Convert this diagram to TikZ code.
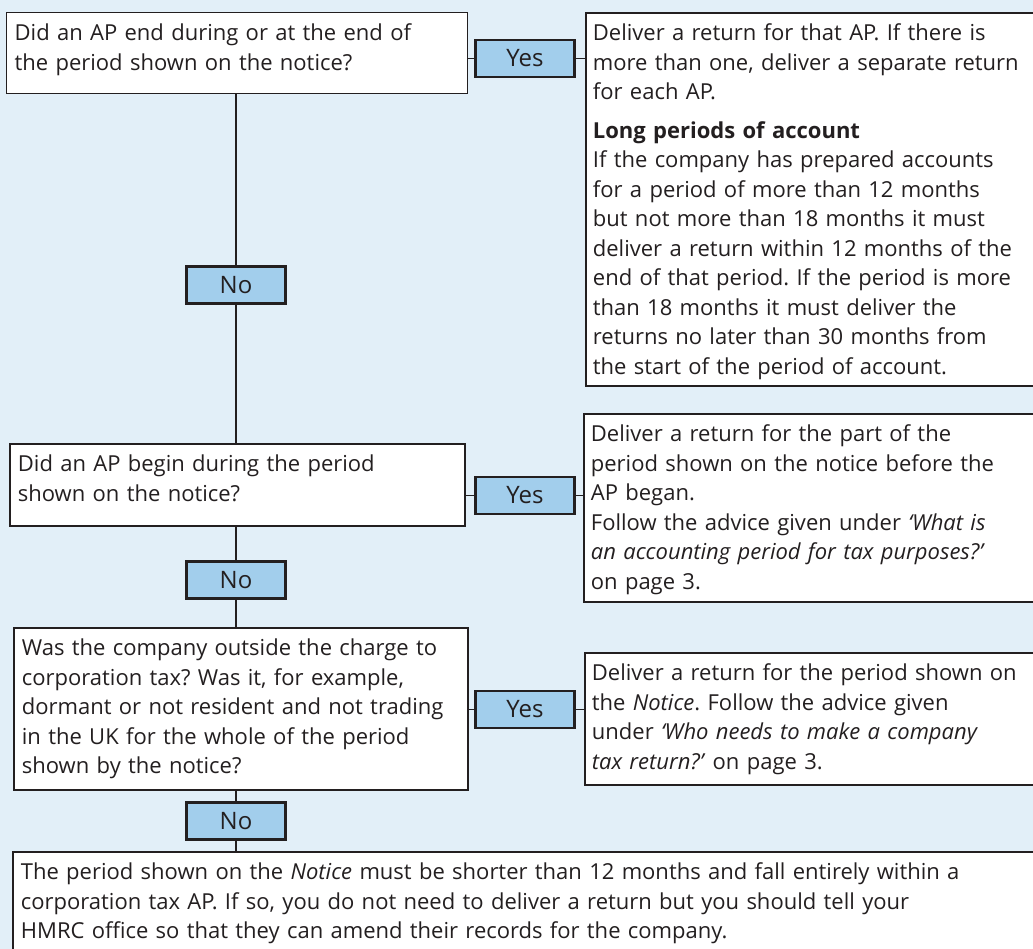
\documentclass[tikz,border=0pt]{standalone}
\usepackage{fontspec}
\setmainfont{Open Sans}
\frenchspacing
\hyphenpenalty=10000
\usetikzlibrary{positioning}

\definecolor{bgblue}{RGB}{226,239,248}
\definecolor{tagblue}{RGB}{162,206,236}
\definecolor{ink}{RGB}{35,31,32}

\tikzset{
  box/.style={draw=ink, fill=white, line width=1.8pt, anchor=north west,
    align=left, inner xsep=8pt, inner ysep=0pt, text=ink, text height=28pt,
    font=\fontsize{22pt}{29.5pt}\selectfont},
  answer/.style={box, inner xsep=7pt},
  tag/.style={draw=ink, fill=tagblue, line width=2.4pt, minimum width=99pt,
    minimum height=37pt, inner sep=0pt, text=ink,
    font=\fontsize{24pt}{29.5pt}\selectfont},
  link/.style={draw=ink, line width=1.8pt}
}

\begin{document}
\begin{tikzpicture}[x=1pt, y=-1pt]
  % page
  \fill[bgblue] (0,0) rectangle (1033,949);
  \useasboundingbox (0,0) rectangle (1033,949);

  % questions
  \node[box, text width=445pt, text depth=53pt, line width=1.3pt] (q1) at (6,12)
    {Did an AP end during or at the end of\\
     the period shown on the notice?};
  \node[box, text width=439pt, text depth=54pt] (q2) at (9,443)
    {Did an AP begin during the period\\
     shown on the notice?};
  \node[box, text width=438pt, text depth=134pt] (q3) at (13,627)
    {Was the company outside the charge to\\
     corporation tax? Was it, for example,\\
     dormant or not resident and not trading\\
     in the UK for the whole of the period\\
     shown by the notice?};

  % answers (their right sides run off the page)
  \node[answer, text width=446pt, text depth=345pt] (a1) at (585,12)
    {Deliver a return for that AP. If there is\\
     more than one, deliver a separate return\\
     for each AP.\\[9pt]
     \textbf{Long periods of account}\\
     If the company has prepared accounts\\
     for a period of more than 12 months\\
     but not more than 18 months it must\\
     deliver a return within 12 months of the\\
     end of that period. If the period is more\\
     than 18 months it must deliver the\\
     returns no later than 30 months from\\
     the start of the period of account.};
  \node[answer, text width=448pt, text depth=160pt] (a2) at (583,413)
    {Deliver a return for the part of the\\
     period shown on the notice before the\\
     AP began.\\
     Follow the advice given under \textit{‘What is}\\
     \textit{an accounting period for tax purposes?’}\\
     on page 3.};
  \node[answer, text width=447pt, text depth=104pt] (a3) at (584,652)
    {Deliver a return for the period shown on\\
     the \textit{Notice}. Follow the advice given\\
     under \textit{‘Who needs to make a company}\\
     \textit{tax return?’} on page 3.};
  \node[box, text width=1020pt, text depth=90pt] (last) at (12,851)
    {The period shown on the \textit{Notice} must be shorter than 12 months and fall entirely within a\\
     corporation tax AP. If so, you do not need to deliver a return but you should tell your\\
     HMRC office so that they can amend their records for the company.};

  % yes / no tags
  \foreach \i/\y in {1/58.5, 2/495.5, 3/709.5}
    \node[tag] (yes\i) at (525,\y) {Yes};
  \foreach \i/\y in {1/285, 2/580, 3/821}
    \node[tag] (no\i) at (236,\y) {No};

  % connectors
  \foreach \i in {1,2,3} {
    \draw[link] (q\i.east |- yes\i) -- (yes\i.west);
    \draw[link] (yes\i.east) -- (yes\i.east -| a\i.west);
    \draw[link] (no\i.north |- q\i.south) -- (no\i.north);
  }
  \draw[link] (no1.south) -- (no1.south |- q2.north);
  \draw[link] (no2.south) -- (no2.south |- q3.north);
  \draw[link] (no3.south) -- (no3.south |- last.north);
\end{tikzpicture}
\end{document}
